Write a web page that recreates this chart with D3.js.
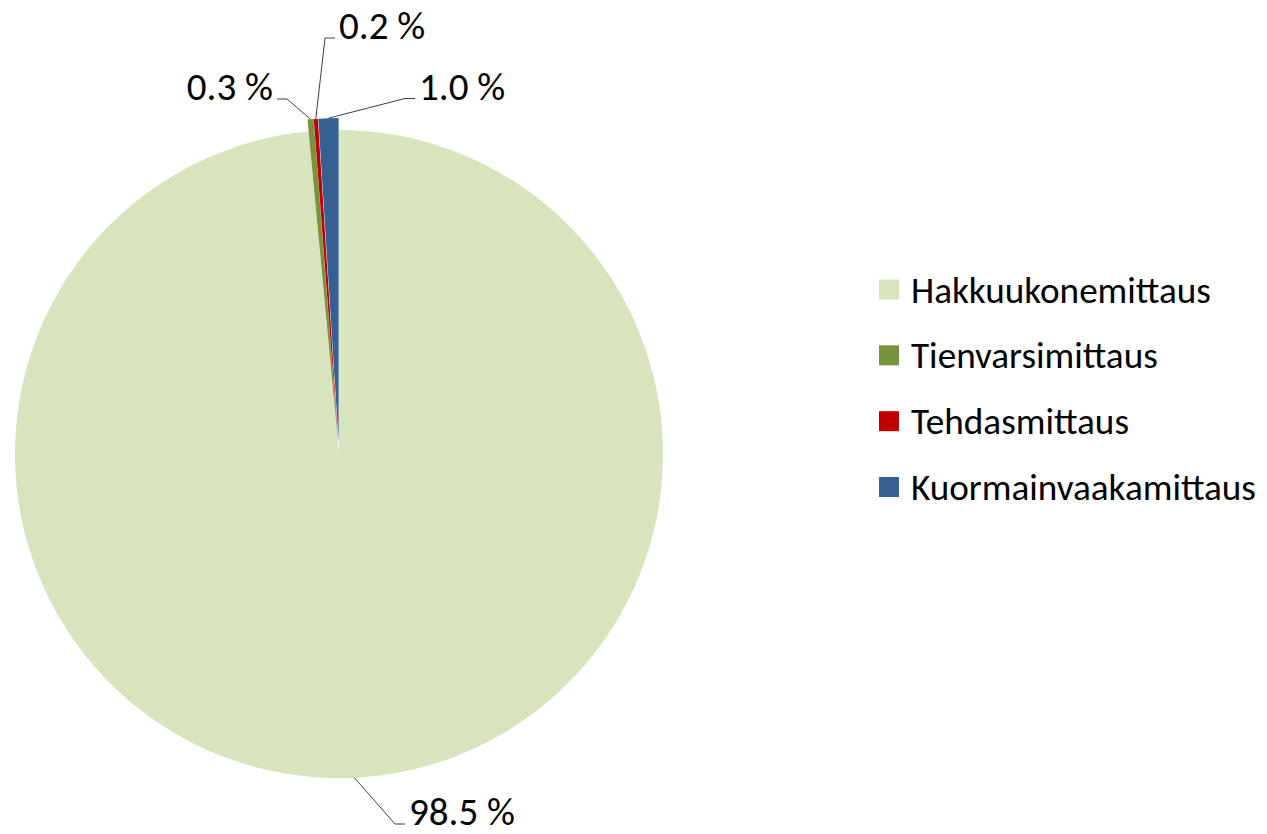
<!DOCTYPE html>
<html><head><meta charset="utf-8">
<script src="https://cdn.jsdelivr.net/npm/d3@7"></script>
<style>body{margin:0;background:#fff;} svg{display:block;}</style>
</head><body>
<svg id="chart" width="1267" height="834"></svg>
<script>
const categories = ["Hakkuukonemittaus", "Tienvarsimittaus", "Tehdasmittaus", "Kuormainvaakamittaus"];
const values = [98.5, 0.3, 0.2, 1.0];
const valueLabels = ["98.5 %", "0.3 %", "0.2 %", "1.0 %"];
const colors = ["#d7e4bd", "#77933c", "#c00000", "#376092"];

const FONT = "Carlito, Calibri, Lato, sans-serif";
const svg = d3.select("#chart");
const cx = 339, cy = 454, R = 324, explode = 12;

const pie = d3.pie().sort(null).value(d => d).startAngle(0).endAngle(2 * Math.PI);
const arcs = pie(values);
const arc = d3.arc().innerRadius(0).outerRadius(R);
const color = d3.scaleOrdinal().domain(categories).range(colors);

const explodeOf = i => (i === 0 ? 0 : explode);

const g = svg.append("g").attr("transform", `translate(${cx},${cy})`);
g.selectAll("path").data(arcs).join("path")
  .attr("d", arc)
  .attr("fill", (d, i) => color(categories[i]))
  .attr("transform", (d, i) => {
    const a = (d.startAngle + d.endAngle) / 2, e = explodeOf(i);
    return `translate(${e * Math.sin(a)},${-e * Math.cos(a)})`;
  });

// label layout (elbow point, label side)
const labelLayout = [
  {ex: 395, ey: 824, side: 1},
  {ex: 287, ey: 99, side: -1},
  {ex: 325, ey: 38, side: 1},
  {ex: 405, ey: 98.5, side: 1}
];

// fit font sizes to target widths
function fitSize(text, target) {
  const t = svg.append("text").attr("font-family", FONT).attr("font-size", 30).text(text);
  const w = t.node().getComputedTextLength();
  t.remove();
  return 30 * target / w;
}
const labelSize = fitSize("98.5 %", 106);
const legendSize = fitSize("Kuormainvaakamittaus", 345);

const lab = svg.append("g");
arcs.forEach((d, i) => {
  const a = (d.startAngle + d.endAngle) / 2, e = explodeOf(i);
  const r = R + e;
  const sx = cx + r * Math.sin(a), sy = cy - r * Math.cos(a);
  const L = labelLayout[i];
  const hx = L.ex + L.side * 10;
  lab.append("polyline")
    .attr("points", `${sx},${sy} ${L.ex},${L.ey} ${hx},${L.ey}`)
    .attr("fill", "none").attr("stroke", "#404040").attr("stroke-width", 1);
  lab.append("text")
    .attr("x", hx + L.side * 4).attr("y", L.ey + 1)
    .attr("text-anchor", L.side > 0 ? "start" : "end")
    .attr("font-family", FONT).attr("font-size", labelSize)
    .attr("fill", "#000")
    .text(valueLabels[i]);
});

// legend
const legendY = d3.scalePoint().domain(categories).range([289.5, 487]);
const leg = svg.append("g");
categories.forEach((c, i) => {
  const y = legendY(c);
  leg.append("rect").attr("x", 879).attr("y", y - 10).attr("width", 20).attr("height", 20)
    .attr("fill", color(c));
  leg.append("text").attr("x", 911).attr("y", y).attr("dy", "0.35em")
    .attr("font-family", FONT).attr("font-size", legendSize).attr("fill", "#000")
    .text(c);
});
</script>
</body></html>
